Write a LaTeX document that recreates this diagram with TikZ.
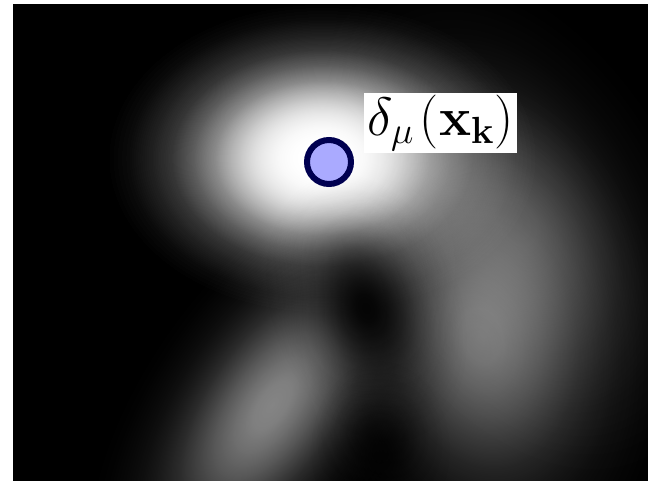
\RequirePackage{fix-cm}
\documentclass[tikz,border=0pt]{standalone}
\pgfdeclareradialshading{gaussglow}{\pgfpointorigin}{color(0bp)=(white); color(2.5bp)=(white!96!black); color(5bp)=(white!83!black); color(7.5bp)=(white!67!black); color(10bp)=(white!49!black); color(12.5bp)=(white!32!black); color(15bp)=(white!20!black); color(17.5bp)=(white!11!black); color(20bp)=(white!6!black); color(22.5bp)=(white!2!black); color(25bp)=(black); color(50bp)=(black)}
\pgfdeclareradialshading{gaussdark}{\pgfpointorigin}{color(0bp)=(black); color(2.5bp)=(black!96!white); color(5bp)=(black!83!white); color(7.5bp)=(black!67!white); color(10bp)=(black!49!white); color(12.5bp)=(black!32!white); color(15bp)=(black!20!white); color(17.5bp)=(black!11!white); color(20bp)=(black!6!white); color(22.5bp)=(black!2!white); color(25bp)=(white); color(50bp)=(white)}
\definecolor{navy}{RGB}{0,0,80}
\definecolor{lav}{RGB}{170,170,255}
\tikzset{glow/.style={shading=gaussglow, blend mode=screen},
  dim/.style={shading=gaussdark, blend mode=multiply}}
\newcommand\myblob[7]{%
\begin{scope}[transform canvas={shift={(#2,#3)}, rotate=#4}]
\shade[#1, opacity=#7] (0,0) ellipse ({#5} and {#6});
\end{scope}}
\begin{document}
\begin{tikzpicture}[x=1pt,y=-1pt]
\useasboundingbox (0,0) rectangle (648,481);
\fill[black] (13,4) rectangle (648,481);
\begin{scope}
\clip (13,4) rectangle (648,481);
% core (two layers)
\myblob{glow}{322}{158}{0}{215}{155}{1}
\myblob{glow}{322}{158}{0}{215}{155}{1}
% right arc halo
\myblob{glow}{515}{220}{-60}{290}{180}{0.28}
% right blob
\myblob{glow}{482}{335}{-80}{270}{190}{0.45}
% lower-left ridge
\myblob{glow}{272}{405}{55}{270}{130}{0.52}
% dark gap between the blobs
\myblob{dim}{366}{308}{-70}{140}{95}{0.9}
\myblob{dim}{380}{450}{90}{90}{70}{0.7}
\end{scope}
\fill[white] (0,0) rectangle (648,4);
\fill[white] (0,0) rectangle (13,481);
\node[circle, draw=navy, fill=lav, line width=6pt, minimum size=44pt, inner sep=0pt] (mu) at (329,162) {};
\node[fill=white, inner xsep=3.5pt, inner ysep=2pt, font=\fontsize{54}{64}\selectfont] (lbl) at (440.5,123) {$\delta_\mu\mkern2mu(\mathbf{x}_\mathbf{k})$};
\end{tikzpicture}
\end{document}
